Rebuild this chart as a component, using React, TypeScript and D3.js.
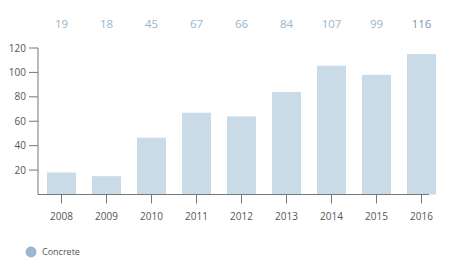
import React from "react";
import * as d3 from "d3";

const years = ["2008", "2009", "2010", "2011", "2012", "2013", "2014", "2015", "2016"];
const barValues = [18, 15, 46.5, 67, 64, 84, 105.5, 98, 115];
const labelValues = [19, 18, 45, 67, 66, 84, 107, 99, 116];
const yTicks = [20, 40, 60, 80, 100, 120];
const seriesName = "Concrete";

const W = 450;
const H = 271;
const FONT = "'Open Sans', 'Noto Sans', sans-serif";

export default function App() {
  const x = d3.scaleBand<string>().domain(years).range([39, 444]).paddingInner(0.356).paddingOuter(0.178);
  const y = d3.scaleLinear().domain([0, 120]).range([194.5, 48]);
  const axisX = 38;
  const baseY = y(0);

  return (
    <svg width={W} height={H} style={{ position: "absolute", left: 0, top: 0, background: "#fff" }}>
      {barValues.map((v, i) => (
        <rect
          key={years[i]}
          x={x(years[i])!}
          y={y(v)}
          width={x.bandwidth()}
          height={baseY - y(v)}
          fill="#c9dbe7"
        />
      ))}
      {labelValues.map((v, i) => (
        <text
          key={"l" + i}
          x={x(years[i])! + x.bandwidth() / 2}
          y={28}
          textAnchor="middle"
          fontFamily={FONT}
          fontSize={11.5}
          fill={i === labelValues.length - 1 ? "#7f93a6" : "#9ab6cd"}
        >
          {v}
        </text>
      ))}
      {/* y axis */}
      <line x1={axisX} x2={axisX} y1={y(120)} y2={baseY} stroke="#777" strokeWidth={1} />
      {yTicks.map((t) => (
        <g key={t}>
          <line x1={29} x2={axisX} y1={y(t)} y2={y(t)} stroke="#777" strokeWidth={1} />
          <text x={26} y={y(t) + 3.5} textAnchor="end" fontFamily={FONT} fontSize={10} fill="#555">
            {t}
          </text>
        </g>
      ))}
      {/* x axis */}
      <line x1={axisX} x2={429} y1={baseY} y2={baseY} stroke="#777" strokeWidth={1} />
      {years.map((yr) => {
        const cx = x(yr)! + x.bandwidth() / 2;
        return (
          <g key={"x" + yr}>
            <line x1={cx} x2={cx} y1={baseY} y2={baseY + 9} stroke="#777" strokeWidth={1} />
            <text x={cx} y={220} textAnchor="middle" fontFamily={FONT} fontSize={10} fill="#555">
              {yr}
            </text>
          </g>
        );
      })}
      {/* legend */}
      <circle cx={31} cy={252} r={5} fill="#9bb8d2" stroke="#8aa7c2" strokeWidth={0.8} />
      <text x={42} y={255} fontFamily={FONT} fontSize={9} fill="#555">
        {seriesName}
      </text>
    </svg>
  );
}
